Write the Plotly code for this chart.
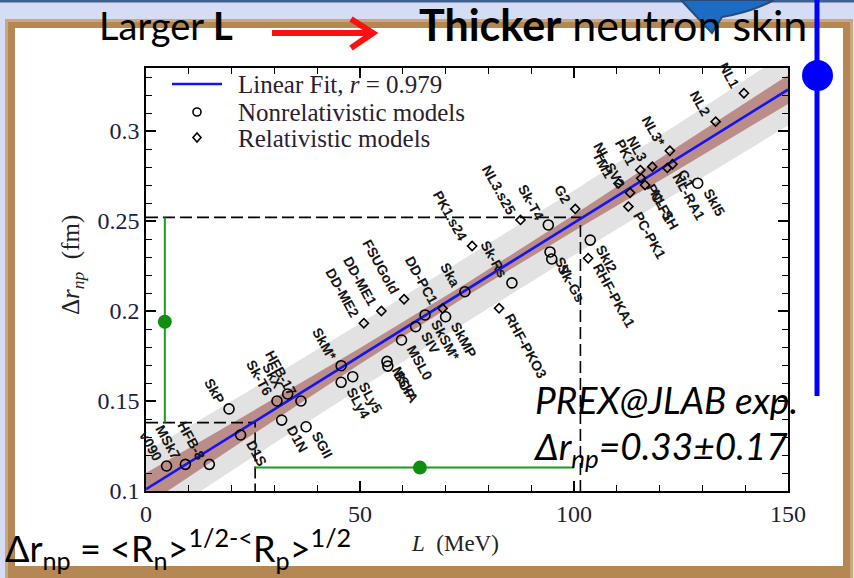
import plotly.graph_objects as go

# ---------------- data ----------------
nonrel_names = ["v090", "MSk7", "HFB-8", "D1S", "SkP", "Sk-T6", "SkX", "HFB-17", "D1N", "SGII",
                "SkM*", "SLy5", "SLy4", "MSkA", "BCP", "MSL0", "SIV", "SkSM*", "SkMP", "Ska",
                "Sk-Rs", "Sk-T4", "SV", "Sk-Gs", "SkI2", "SkI5"]
nonrel_L = [4.8, 9.2, 14.8, 22.1, 19.4, 30.6, 33.1, 36.2, 31.7, 37.4,
            45.6, 48.3, 45.6, 56.3, 56.5, 59.7, 63.0, 65.2, 70.0, 74.5,
            85.5, 94.0, 94.4, 94.8, 103.8, 128.9]
nonrel_r = [0.1139, 0.1148, 0.1148, 0.1311, 0.1456, 0.1500, 0.1539, 0.1500, 0.1394, 0.1357,
            0.1696, 0.1635, 0.1604, 0.1720, 0.1694, 0.1839, 0.1913, 0.1978, 0.1968, 0.2107,
            0.2156, 0.2478, 0.2328, 0.2289, 0.2394, 0.2710]
nonrel_side = ["ul", "ul", "ul", "lr", "ul", "ul", "ul", "ul", "lr", "lr",
               "ul", "lr", "lr", "lr", "lr", "lr", "lr", "lr", "lr", "ul",
               "ul", "ul", "lr", "lr", "lr", "lr"]

rel_names = ["DD-ME2", "DD-ME1", "FSUGold", "DD-PC1", "PK1.s24", "RHF-PKO3", "NL3.s25", "G2",
             "RHF-PKA1", "TM1", "NL-SV2", "PK1", "NL3", "PC-PK1", "NL-SH", "PC-F1",
             "NL3*", "G1", "NL-RA1", "NL2", "NL1"]
rel_L = [50.9, 55.0, 60.3, 69.3, 76.2, 82.5, 87.5, 100.3,
         103.3, 110.4, 113.1, 115.5, 118.3, 112.7, 116.6, 115.7,
         122.4, 123.0, 121.8, 133.1, 139.7]
rel_r = [0.1932, 0.2000, 0.2065, 0.2014, 0.2361, 0.2015, 0.2506, 0.2567,
         0.2293, 0.2709, 0.2657, 0.2783, 0.2802, 0.2580, 0.2700, 0.2737,
         0.2890, 0.2815, 0.2795, 0.3052, 0.3210]
rel_side = ["ul", "ul", "ul", "ul", "ul", "lr", "ul", "ul",
            "lr", "ul", "ul", "ul", "ul", "lr", "lr", "lr",
            "ul", "lr", "lr", "ul", "ul"]

fit_L = [0, 150]
fit_r = [0.101, 0.323]

band_L = [0, 25, 50, 75, 100, 125, 150]
brown_lo = [0.092, 0.1315, 0.1705, 0.2085, 0.2445, 0.2795, 0.315]
brown_hi = [0.110, 0.1445, 0.1795, 0.2155, 0.2535, 0.2925, 0.331]
gray_lo = [0.080, 0.119, 0.157, 0.194, 0.231, 0.267, 0.303]
gray_hi = [0.122, 0.157, 0.193, 0.230, 0.267, 0.305, 0.344]

dash_hi_L = [0, 101.5, 101.5]
dash_hi_r = [0.252, 0.252, 0.1]
dash_lo_L = [0, 25.5, 25.5]
dash_lo_r = [0.138, 0.138, 0.1]

green_v_L = [4.4, 4.4]
green_v_r = [0.138, 0.252]
green_v_dot_L = [4.4]
green_v_dot_r = [0.194]
green_h_L = [25.5, 100.0]
green_h_r = [0.113, 0.113]
green_h_dot_L = [64.0]
green_h_dot_r = [0.113]

x_ticks = [0, 50, 100, 150]
y_ticks = [0.1, 0.15, 0.2, 0.25, 0.3]
y_ticklabels = ["0.1", "0.15", "0.2", "0.25", "0.3"]

legend_labels = ["Linear Fit, <i>r</i> = 0.979", "Nonrelativistic models", "Relativistic models"]

# ---------------- geometry helpers (pixel -> paper) ----------------
W, H = 854, 578
PL, PR, PT, PB = 146, 788, 68, 491


def xp(px):
    return (px - PL) / (PR - PL)


def yp(py):
    return (PB - py) / (PB - PT)


SERIF = "Liberation Serif"
SANS = "Lato"

fig = go.Figure()

# bands
fig.add_trace(go.Scatter(x=band_L + band_L[::-1], y=gray_hi + gray_lo[::-1], fill="toself",
                         fillcolor="#e2e2e2", line=dict(width=0), mode="lines",
                         showlegend=False, hoverinfo="skip"))
fig.add_trace(go.Scatter(x=band_L + band_L[::-1], y=brown_hi + brown_lo[::-1], fill="toself",
                         fillcolor="#bb8d89", line=dict(width=0), mode="lines",
                         showlegend=False, hoverinfo="skip"))
# dashed guide lines
for lx, ly in [(dash_hi_L, dash_hi_r), (dash_lo_L, dash_lo_r)]:
    fig.add_trace(go.Scatter(x=lx, y=ly, mode="lines", line=dict(color="black", width=1.6, dash="12px,5px"),
                             showlegend=False, hoverinfo="skip"))
# fit
fig.add_trace(go.Scatter(x=fit_L, y=fit_r, mode="lines", line=dict(color="#1414f0", width=2.6),
                         name=legend_labels[0], showlegend=False))
fig.add_trace(go.Scatter(x=nonrel_L, y=nonrel_r, mode="markers", name=legend_labels[1], showlegend=False,
                         marker=dict(symbol="circle-open", size=10, color="black", line=dict(width=1.6))))
fig.add_trace(go.Scatter(x=rel_L, y=rel_r, mode="markers", name=legend_labels[2], showlegend=False,
                         marker=dict(symbol="diamond-open", size=7, color="black", line=dict(width=1.6))))
# green overlays
fig.add_trace(go.Scatter(x=green_v_L, y=green_v_r, mode="lines", line=dict(color="#1e9a1e", width=2),
                         showlegend=False, hoverinfo="skip"))
fig.add_trace(go.Scatter(x=green_h_L, y=green_h_r, mode="lines", line=dict(color="#1e9a1e", width=2),
                         showlegend=False, hoverinfo="skip"))
fig.add_trace(go.Scatter(x=green_v_dot_L + green_h_dot_L, y=green_v_dot_r + green_h_dot_r, mode="markers",
                         marker=dict(color="#0f8f0f", size=14), showlegend=False, hoverinfo="skip",
                         cliponaxis=False))

annotations = []
for names, Ls, rs, sides in [(nonrel_names, nonrel_L, nonrel_r, nonrel_side),
                             (rel_names, rel_L, rel_r, rel_side)]:
    for n, L, r, s in zip(names, Ls, rs, sides):
        if s == "ul":
            a = dict(xanchor="right", yanchor="bottom", xshift=0, yshift=1)
        else:
            a = dict(xanchor="left", yanchor="top", xshift=1, yshift=-1)
        annotations.append(dict(x=L, y=r, xref="x", yref="y", text="<b>" + n + "</b>", showarrow=False,
                                textangle=61, font=dict(family="Liberation Sans", size=14, color="#151515"),
                                borderpad=0, **a))


def pann(px, py, text, font, xanchor="left", angle=0):
    annotations.append(dict(x=xp(px), y=yp(py), xref="paper", yref="paper", showarrow=False,
                            xanchor=xanchor, yanchor="middle", text=text, font=font, textangle=angle))


# legend (manual)
legfont = dict(family=SERIF, size=25, color="#2a2030")
pann(236, 84, legend_labels[0], legfont)
pann(236, 112, legend_labels[1], legfont)
pann(236, 138, legend_labels[2], legfont)

# axis titles
pann(455, 543, "<i>L</i>  (MeV)", dict(family=SERIF, size=23, color="#222"), xanchor="center")
pann(72, 265, "Δ<i>r</i><sub><i>np</i></sub>  (fm)", dict(family=SERIF, size=25, color="#222"),
     xanchor="center", angle=-90)

# slide texts
pann(97, 25, "Larger <b>L</b>", dict(family=SANS, size=38, color="black"))
pann(417, 25, "<b>Thicker</b> neutron skin", dict(family=SANS, size=43, color="black"))
pann(533, 399, "<i>PREX@JLAB exp.</i>", dict(family=SANS, size=37, color="black"))
pann(531, 448, "<i>Δr<sub>np</sub>=0.33±0.17</i>", dict(family=SANS, size=37, color="black"))
pann(3, 548, "Δr<sub>np</sub> = &lt;R<sub>n</sub>&gt;<sup>1/2-&lt;</sup>R<sub>p</sub>&gt;<sup>1/2</sup>",
     dict(family=SANS, size=36, color="black"))

shapes = []
# slide background pieces
shapes.append(dict(type="rect", xref="paper", yref="paper", x0=xp(0), x1=xp(W), y0=yp(0), y1=yp(2.5),
                   fillcolor="#3f5f90", line=dict(width=0), layer="below"))
shapes.append(dict(type="rect", xref="paper", yref="paper", x0=xp(5), x1=xp(853), y0=yp(19), y1=yp(W),
                   fillcolor="#c9a880", line=dict(width=0), layer="below"))
shapes.append(dict(type="rect", xref="paper", yref="paper", x0=xp(8), x1=xp(850), y0=yp(22), y1=yp(W),
                   fillcolor="#b48753", line=dict(width=0), layer="below"))
shapes.append(dict(type="rect", xref="paper", yref="paper", x0=xp(15), x1=xp(843), y0=yp(28), y1=yp(566),
                   fillcolor="white", line=dict(width=0), layer="below"))
# legend glyphs
shapes.append(dict(type="line", xref="paper", yref="paper", x0=xp(172), x1=xp(222), y0=yp(84), y1=yp(84),
                   line=dict(color="#1414f0", width=2.6), layer="above"))
shapes.append(dict(type="circle", xref="paper", yref="paper", x0=xp(193), x1=xp(201), y0=yp(108), y1=yp(116),
                   line=dict(color="black", width=1.6), layer="above"))
shapes.append(dict(type="path", xref="paper", yref="paper",
                   path=(f"M {xp(197)} {yp(133)} L {xp(201)} {yp(137.5)} L {xp(197)} {yp(142)} "
                         f"L {xp(193)} {yp(137.5)} Z"),
                   line=dict(color="black", width=1.6), layer="above"))
# red arrow
shapes.append(dict(type="line", xref="paper", yref="paper", x0=xp(272), x1=xp(370), y0=yp(33), y1=yp(33),
                   line=dict(color="#ff1010", width=6), layer="above"))
shapes.append(dict(type="path", xref="paper", yref="paper",
                   path=f"M {xp(351)} {yp(19)} L {xp(373)} {yp(33)} L {xp(351)} {yp(48)}",
                   line=dict(color="#ff1010", width=6), layer="above"))
# blue curved-arrow tip at top
shapes.append(dict(type="path", xref="paper", yref="paper",
                   path=(f"M {xp(681)} {yp(0)} L {xp(712)} {yp(33)} L {xp(722)} {yp(17)} "
                         f"Q {xp(752)} {yp(12)} {xp(774)} {yp(0)} Z"),
                   fillcolor="#1b6cc4", line=dict(color="#2b4a7a", width=2), layer="above"))
# blue vertical line and dot
shapes.append(dict(type="line", xref="paper", yref="paper", x0=xp(817), x1=xp(817), y0=yp(0), y1=yp(396),
                   line=dict(color="#0000ff", width=5), layer="above"))
shapes.append(dict(type="circle", xref="paper", yref="paper", x0=xp(802), x1=xp(833), y0=yp(60), y1=yp(91),
                   fillcolor="#0000ff", line=dict(width=0), layer="above"))

axis_common = dict(showline=True, linecolor="black", linewidth=1.6, mirror="ticks", ticks="inside",
                   ticklen=10, tickwidth=1.5, tickcolor="black", showgrid=False, zeroline=False,
                   tickfont=dict(family=SERIF, size=24, color="#1c2040"))

fig.update_layout(
    width=W, height=H, autosize=False,
    margin=dict(l=PL, r=W - PR, t=PT, b=H - PB),
    paper_bgcolor="#d5dcf3", plot_bgcolor="rgba(0,0,0,0)",
    xaxis=dict(range=[0, 150], tickvals=x_ticks, ticktext=[str(v) for v in x_ticks],
               minor=dict(dtick=10, tick0=0, ticks="inside", ticklen=6, tickwidth=1.3, tickcolor="black"),
               **axis_common),
    yaxis=dict(range=[0.1, 0.335], tickvals=y_ticks, ticktext=y_ticklabels,
               minor=dict(dtick=0.01, tick0=0.1, ticks="inside", ticklen=6, tickwidth=1.3, tickcolor="black"),
               **axis_common),
    annotations=annotations,
    shapes=shapes,
    showlegend=False,
)

fig.write_html("out.html")
